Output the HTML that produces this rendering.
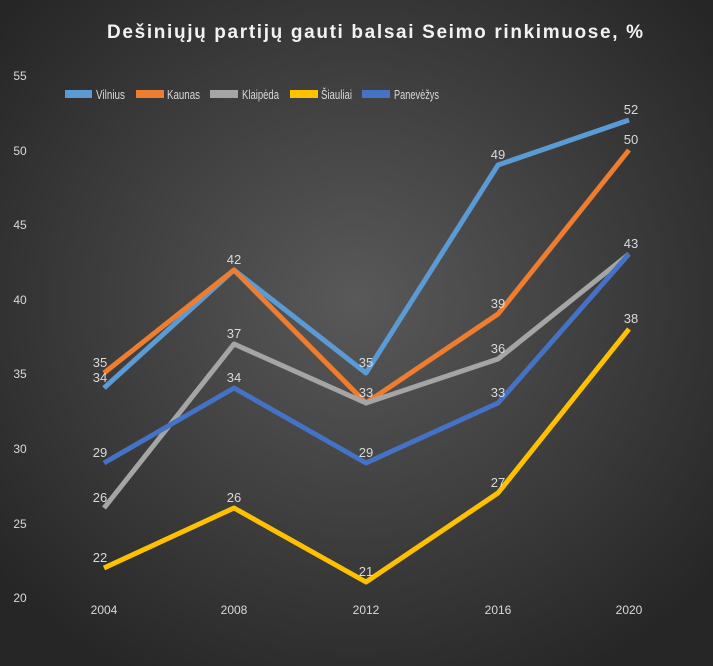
<!DOCTYPE html>
<html><head><meta charset="utf-8"><style>
body{margin:0;width:713px;height:666px;overflow:hidden;background:#333}
svg{display:block;font-family:"Liberation Sans",sans-serif}
</style></head><body>
<svg width="713" height="666" viewBox="0 0 713 666">
<defs><radialGradient id="g" cx="50%" cy="45%" r="65%"><stop offset="0" stop-color="#595959"/><stop offset="1" stop-color="#262626"/></radialGradient></defs>
<rect width="713" height="666" fill="url(#g)"/>
<text x="107" y="38" textLength="536" fill="#f2f2f2" font-size="19" font-weight="bold">Dešiniųjų partijų gauti balsai Seimo rinkimuose, %</text>
<g fill="#d9d9d9" font-size="12" text-anchor="middle">
<text x="20" y="80">55</text><text x="20" y="155">50</text><text x="20" y="229">45</text><text x="20" y="304">40</text><text x="20" y="378">35</text><text x="20" y="453">30</text><text x="20" y="528">25</text><text x="20" y="602">20</text>
<text x="104" y="614">2004</text><text x="234" y="614">2008</text><text x="366" y="614">2012</text><text x="498" y="614">2016</text><text x="629" y="614">2020</text>
</g>
<g stroke-width="8"><line x1="65" y1="94" x2="92" y2="94" stroke="#5b9bd5"/><line x1="136" y1="94" x2="164" y2="94" stroke="#ed7d31"/><line x1="210" y1="94" x2="238" y2="94" stroke="#a5a5a5"/><line x1="290" y1="94" x2="318" y2="94" stroke="#ffc000"/><line x1="362" y1="94" x2="390" y2="94" stroke="#4472c4"/></g>
<g fill="#d9d9d9" font-size="13"><text x="96" y="99" textLength="29" lengthAdjust="spacingAndGlyphs">Vilnius</text><text x="167" y="99" textLength="33" lengthAdjust="spacingAndGlyphs">Kaunas</text><text x="242" y="99" textLength="37" lengthAdjust="spacingAndGlyphs">Klaipėda</text><text x="321" y="99" textLength="31" lengthAdjust="spacingAndGlyphs">Šiauliai</text><text x="394" y="99" textLength="45" lengthAdjust="spacingAndGlyphs">Panevėžys</text></g>
<g fill="none" stroke-width="5" stroke-linejoin="round">
<polyline stroke="#5b9bd5" points="104,388 234,270 366,373 498,165 629,120"/>
<polyline stroke="#ed7d31" points="104,373 234,270 366,403 498,314 629,150"/>
<polyline stroke="#a5a5a5" points="104,508 234,344 366,403 498,359 629,254"/>
<polyline stroke="#ffc000" points="104,568 234,508 366,582 498,493 629,329"/>
<polyline stroke="#4472c4" points="104,463 234,388 366,463 498,403 629,254"/>
</g>
<g fill="#d9d9d9" font-size="13" text-anchor="middle">
<text x="100" y="382">34</text><text x="100" y="367">35</text><text x="100" y="502">26</text><text x="100" y="562">22</text><text x="100" y="457">29</text>
<text x="234" y="264">42</text><text x="234" y="338">37</text><text x="234" y="502">26</text><text x="234" y="382">34</text>
<text x="366" y="367">35</text><text x="366" y="397">33</text><text x="366" y="576">21</text><text x="366" y="457">29</text>
<text x="498" y="159">49</text><text x="498" y="308">39</text><text x="498" y="353">36</text><text x="498" y="487">27</text><text x="498" y="397">33</text>
<text x="631" y="114">52</text><text x="631" y="144">50</text><text x="631" y="248">43</text><text x="631" y="323">38</text>
</g>
</svg>
</body></html>
